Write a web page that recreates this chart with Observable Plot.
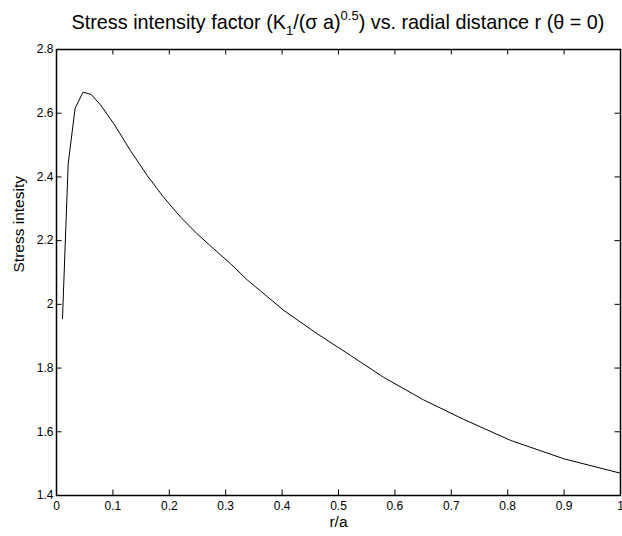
<!DOCTYPE html>
<html>
<head>
<meta charset="utf-8">
<script src="https://cdn.jsdelivr.net/npm/d3@7"></script>
<script src="https://cdn.jsdelivr.net/npm/@observablehq/plot@0.6"></script>
<style>
  body { margin: 0; background: #fff; }
  #wrap { position: relative; width: 622px; height: 536px; font-family: "Liberation Sans", Arial, Helvetica, sans-serif; }
  #title { position: absolute; left: 56px; width: 564px; top: 9px; text-align: center; font-size: 19.8px; color: #000; white-space: nowrap; line-height: 26px; }
  #title sub { font-size: 13px; vertical-align: -6px; line-height: 0; }
  #title sup { font-size: 13px; vertical-align: 9px; line-height: 0; }
  #chart { position: absolute; left: 0; top: 0; }
</style>
</head>
<body>
<div id="wrap">
  <div id="chart"></div>
  <div id="title">Stress intensity factor (K<sub>1</sub>/(σ a)<sup>0.5</sup>) vs. radial distance r (θ = 0)</div>
</div>
<script>
// r/a values and corresponding stress intensity
const ra = [0.0106, 0.0207, 0.033, 0.047, 0.0615, 0.078, 0.1016, 0.131, 0.161, 0.190, 0.220, 0.249, 0.279, 0.309, 0.338, 0.403, 0.462, 0.521, 0.580, 0.651, 0.722, 0.805, 0.900, 1.000];
const stress = [1.955, 2.441, 2.616, 2.666, 2.659, 2.626, 2.567, 2.483, 2.404, 2.336, 2.274, 2.222, 2.174, 2.127, 2.077, 1.981, 1.908, 1.840, 1.771, 1.700, 1.639, 1.573, 1.515, 1.470];
const xTicks = [0, 0.1, 0.2, 0.3, 0.4, 0.5, 0.6, 0.7, 0.8, 0.9, 1];
const xTickLabels = ["0", "0.1", "0.2", "0.3", "0.4", "0.5", "0.6", "0.7", "0.8", "0.9", "1"];
const yTicks = [1.4, 1.6, 1.8, 2, 2.2, 2.4, 2.6, 2.8];
const yTickLabels = ["1.4", "1.6", "1.8", "2", "2.2", "2.4", "2.6", "2.8"];
const xLabel = "r/a";
const yLabel = "Stress intesity";

const data = ra.map((x, i) => ({x, y: stress[i]}));

const W = 622, H = 536;
const mL = 56, mR = 2, mT = 49, mB = 41;
const innerW = W - mL - mR, innerH = H - mT - mB;
const tk = 5.5;

const chart = Plot.plot({
  width: W,
  height: H,
  marginLeft: mL,
  marginRight: mR,
  marginTop: mT,
  marginBottom: mB,
  style: {fontFamily: "'Liberation Sans', Arial, Helvetica, sans-serif", color: "#000", background: "#fff"},
  x: {domain: [0, 1]},
  y: {domain: [1.4, 2.8]},
  marks: [
    Plot.tickX(xTicks, {x: d => d, insetTop: innerH - tk, stroke: "#000", strokeWidth: 1}),
    Plot.tickX(xTicks, {x: d => d, insetBottom: innerH - tk, stroke: "#000", strokeWidth: 1}),
    Plot.tickY(yTicks, {y: d => d, insetRight: innerW - tk, stroke: "#000", strokeWidth: 1}),
    Plot.tickY(yTicks, {y: d => d, insetLeft: innerW - tk, stroke: "#000", strokeWidth: 1}),
    Plot.axisX(xTicks, {tickSize: 0, tickPadding: 6, fontSize: 12, tickFormat: (d, i) => xTickLabels[i], label: null}),
    Plot.axisY(yTicks, {tickSize: 0, tickPadding: 3, fontSize: 12, tickFormat: (d, i) => yTickLabels[i], label: null}),
    Plot.line(data, {x: "x", y: "y", stroke: "#000", strokeWidth: 1}),
    Plot.frame({stroke: "#000", strokeWidth: 1.5}),
    Plot.text([xLabel], {frameAnchor: "bottom", dy: 31, fontSize: 15.5}),
    Plot.text([yLabel], {frameAnchor: "left", dx: -37, rotate: -90, fontSize: 15.5})
  ]
});
document.getElementById("chart").appendChild(chart);
</script>
</body>
</html>
